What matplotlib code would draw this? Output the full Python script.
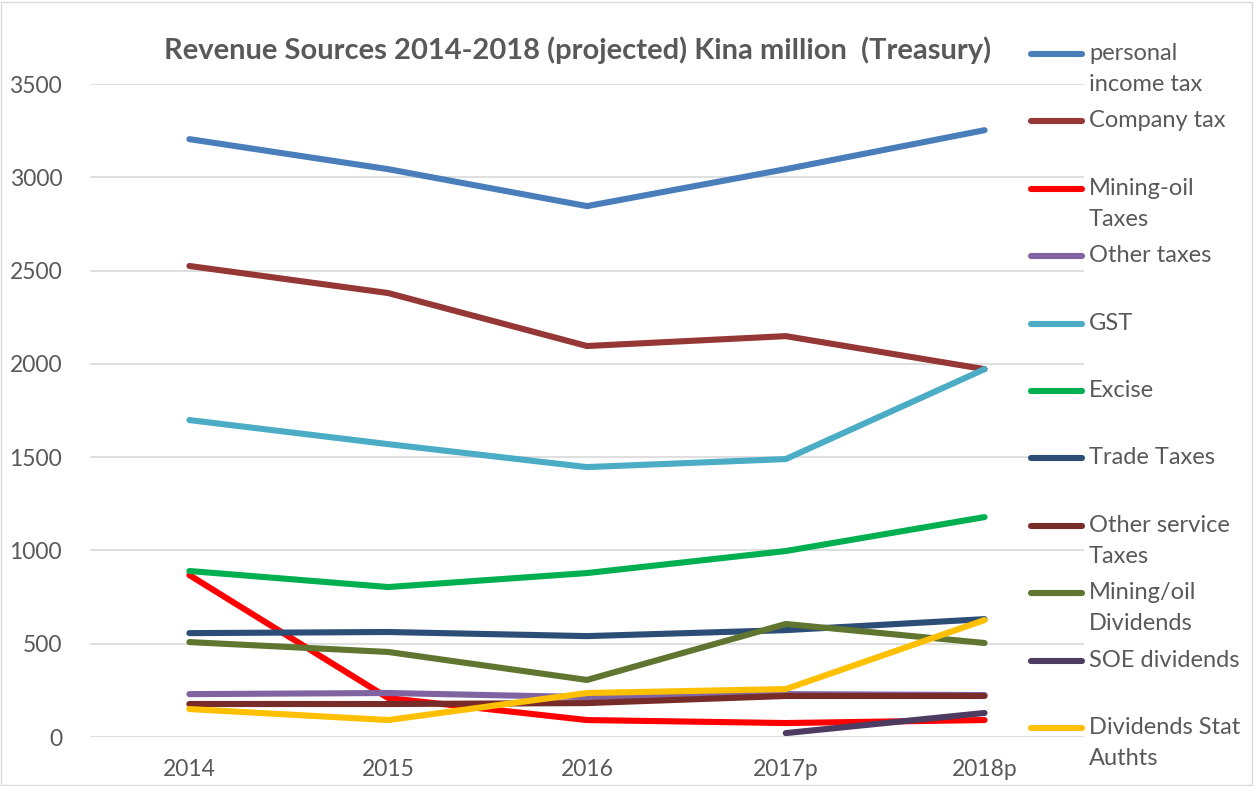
import matplotlib
matplotlib.use("Agg")
import matplotlib.pyplot as plt
from matplotlib.lines import Line2D
from matplotlib.patches import Rectangle
import numpy as np

plt.rcParams['font.family'] = ['Lato', 'DejaVu Sans']

# Dados (Kina million)
anos = ["2014", "2015", "2016", "2017p", "2018p"]
personal_income_tax = [3205, 3044, 2846, 3044, 3253]
company_tax = [2525, 2380, 2096, 2149, 1972]
mining_oil_taxes = [868, 209, 91, 75, 91]
other_taxes = [230, 236, 214, 230, 225]
gst = [1699, 1570, 1447, 1490, 1972]
excise = [890, 804, 879, 997, 1179]
trade_taxes = [557, 563, 541, 573, 632]
other_service_taxes = [177, 177, 182, 220, 220]
mining_oil_dividends = [509, 456, 306, 606, 504]
soe_dividends = [np.nan, np.nan, np.nan, 21, 129]
dividends_stat_auths = [150, 91, 236, 257, 627]

nomes = ["personal\nincome tax", "Company tax", "Mining-oil\nTaxes", "Other taxes",
         "GST", "Excise", "Trade Taxes", "Other service\nTaxes", "Mining/oil\nDividends",
         "SOE dividends", "Dividends Stat\nAuthts"]
series = [personal_income_tax, company_tax, mining_oil_taxes, other_taxes, gst, excise,
          trade_taxes, other_service_taxes, mining_oil_dividends, soe_dividends,
          dividends_stat_auths]
cores = ["#4A7EBB", "#953735", "#FF0000", "#8064A2", "#4BACC6", "#00B050",
         "#2C4D75", "#772C2A", "#5F7530", "#4D3B62", "#FFC000"]

cinza = "#595959"

fig = plt.figure(figsize=(12.55, 7.86), dpi=100)
ax = fig.add_axes([0.0717, 0.0623, 0.792, 0.8307])

x = np.arange(len(anos))
for vals, cor in zip(series, cores):
    ax.plot(x, vals, color=cor, linewidth=4.4, solid_capstyle='round',
            solid_joinstyle='round')

ax.set_xlim(-0.5, len(anos) - 0.5)
ax.set_ylim(0, 3500)
ax.set_yticks(np.arange(0, 3501, 500))
ax.set_xticks(x)
ax.set_xticklabels(anos)
ax.yaxis.grid(True, color="#D9D9D9", linewidth=1.2)
ax.set_axisbelow(True)
for s in ax.spines.values():
    s.set_visible(False)
ax.tick_params(axis='both', length=0, labelsize=16.5, labelcolor=cinza)
ax.tick_params(axis='y', pad=20)
ax.tick_params(axis='x', pad=16)

fig.text(0.4606, 0.936, "Revenue Sources 2014-2018 (projected) Kina million  (Treasury)",
         ha='center', va='center', fontsize=21, fontweight='bold', color=cinza)

# Legenda manual (alça alinhada com a primeira linha do texto)
W, H = 1255, 786
y0, passo = 54, 67.4
for i, (nome, cor) in enumerate(zip(nomes, cores)):
    yp = y0 + i * passo
    fig.add_artist(Line2D([1031 / W, 1082 / W], [1 - yp / H, 1 - yp / H], color=cor,
                          linewidth=4.4, solid_capstyle='round'))
    fig.text(1089 / W, 1 - (yp - 11) / H, nome, ha='left', va='top', fontsize=17,
             color=cinza, linespacing=1.6)

fig.add_artist(Rectangle((0.001, 0.001), 0.997, 0.996, transform=fig.transFigure,
                         fill=False, edgecolor="#D9D9D9", linewidth=1))

fig.savefig("out.png", dpi=100)
